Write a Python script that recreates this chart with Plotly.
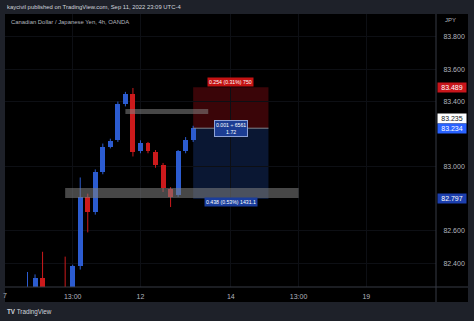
import plotly.graph_objects as go

# ---- data (4h CAD/JPY candles) ----
bar_index = list(range(23))
opens  = [82.20, 82.20, 82.31, 82.20, 82.15, 82.22, 82.18, 82.38, 82.81, 82.716, 82.964, 83.119, 83.16, 83.385, 83.447, 83.094, 83.144, 83.088, 83.007, 82.859, 82.822, 83.094, 83.162]
highs  = [82.345, 82.33, 82.47, 82.24, 82.24, 82.44, 82.39, 82.93, 82.83, 82.98, 83.14, 83.17, 83.40, 83.46, 83.484, 83.16, 83.15, 83.10, 83.02, 82.87, 83.10, 83.18, 83.25]
lows   = [82.15, 82.15, 82.15, 82.10, 82.10, 82.10, 82.15, 82.36, 82.59, 82.70, 82.95, 83.11, 83.15, 83.37, 83.06, 83.08, 83.08, 82.99, 82.84, 82.747, 82.81, 83.08, 83.15]
closes = [82.22, 82.31, 82.20, 82.15, 82.18, 82.18, 82.38, 82.81, 82.716, 82.964, 83.119, 83.156, 83.385, 83.447, 83.088, 83.144, 83.094, 83.007, 82.865, 82.809, 83.094, 83.162, 83.237]

x_tick_pos = [6, 15, 27, 36, 45]
x_tick_text = ["13:00", "12", "14", "13:00", "19"]
y_ticks = [82.4, 82.6, 83.0, 83.4, 83.6, 83.8]

# position tool & zones
entry_price = 83.235
stop_price = 83.489
target_price = 82.797
last_price = 83.234
tool_start, tool_end = 22, 32
upper_zone = (13, 24, 83.323, 83.354)
lower_zone = (5, 36, 82.803, 82.865)
label_stop = "0.254 (0.31%) 750"
label_mid = "0.001 ÷ 6561<br>1.72"
label_target = "0.438 (0.53%) 1431.1"

UP = "#2c5cd0"
DOWN = "#cc1a1c"
FRAME = "#1e2129"
AXIS = "#b2b5be"
SEP = "#363a45"

fig = go.Figure()

colors = [UP if c >= o else DOWN for o, c in zip(opens, closes)]

# wicks
for col in (UP, DOWN):
    xs, ys = [], []
    for i, o, h, l, c, k in zip(bar_index, opens, highs, lows, closes, colors):
        if k == col:
            xs += [i, i, None]
            ys += [l, h, None]
    fig.add_trace(go.Scatter(x=xs, y=ys, mode="lines", line=dict(color=col, width=1),
                             hoverinfo="skip", showlegend=False))

# bodies
fig.add_trace(go.Bar(
    x=bar_index,
    y=[max(abs(c - o), 0.003) for o, c in zip(opens, closes)],
    base=[min(o, c) for o, c in zip(opens, closes)],
    width=0.66,
    marker=dict(color=colors, line=dict(width=0)),
    showlegend=False, hoverinfo="skip"))

shapes = []
# chart black area (including axes area)
shapes.append(dict(type="rect", xref="paper", yref="paper", x0=0, x1=(468 - 5) / 431,
                   y0=(287 - 302) / 273, y1=1.0, fillcolor="#000000", line_width=0, layer="below"))
# position tool boxes
shapes.append(dict(type="rect", xref="x", yref="y", x0=tool_start, x1=tool_end,
                   y0=entry_price, y1=stop_price, fillcolor="#3a0508", line_width=0, layer="below"))
shapes.append(dict(type="rect", xref="x", yref="y", x0=tool_start, x1=tool_end,
                   y0=target_price, y1=entry_price, fillcolor="#0a1733", line_width=0, layer="below"))
shapes.append(dict(type="line", xref="x", yref="y", x0=tool_start, x1=tool_end,
                   y0=entry_price, y1=entry_price, line=dict(color="#80838c", width=1)))
# zones
for z in (upper_zone, lower_zone):
    shapes.append(dict(type="rect", xref="x", yref="y", x0=z[0], x1=z[1], y0=z[2], y1=z[3],
                       fillcolor="rgba(130,130,130,0.55)", line_width=0, layer="above"))
# separators
shapes.append(dict(type="line", xref="paper", yref="paper", x0=1.0, x1=1.0,
                   y0=(287 - 302) / 273, y1=1.0, line=dict(color=SEP, width=1)))
shapes.append(dict(type="line", xref="paper", yref="paper", x0=0, x1=(468 - 5) / 431,
                   y0=0, y1=0, line=dict(color=SEP, width=1)))

ann = []
ann.append(dict(text="kaycivil published on TradingView.com, Sep 11, 2022 23:09 UTC-4",
                xref="paper", yref="paper", x=(5 - 5) / 431, y=(287 - 7) / 273,
                xanchor="left", yanchor="middle", showarrow=False,
                font=dict(size=5.9, color="#d1d4dc", family="Liberation Sans")))
ann.append(dict(text="Canadian Dollar / Japanese Yen, 4h, OANDA",
                xref="paper", yref="paper", x=(9 - 5) / 431, y=(287 - 22) / 273,
                xanchor="left", yanchor="middle", showarrow=False,
                font=dict(size=5.9, color=AXIS, family="Liberation Sans")))
ann.append(dict(text="JPY", xref="paper", yref="paper", x=(443 - 5) / 431, y=(287 - 20) / 273,
                xanchor="left", yanchor="middle", showarrow=False,
                font=dict(size=6, color=AXIS, family="Liberation Sans")))
ann.append(dict(text="7", xref="paper", yref="paper", x=(5 - 5) / 431, y=(287 - 295) / 273,
                xanchor="center", yanchor="middle", showarrow=False,
                font=dict(size=7, color=AXIS, family="Liberation Sans")))
ann.append(dict(text="<b>TV</b> TradingView", xref="paper", yref="paper",
                x=(5 - 5) / 431, y=(287 - 312) / 273, xanchor="left", yanchor="middle",
                showarrow=False, font=dict(size=6.3, color="#d1d4dc", family="Liberation Sans")))

mid_x = (tool_start + tool_end) / 2
ann.append(dict(text=label_stop, x=mid_x, y=stop_price, yshift=5, xref="x", yref="y",
                showarrow=False, bgcolor="#c41212", borderpad=1,
                font=dict(size=5.2, color="white", family="Liberation Sans")))
ann.append(dict(text=label_mid, x=mid_x, y=entry_price, xref="x", yref="y",
                showarrow=False, bgcolor="#1c3d93", bordercolor="#8ea2d6", borderwidth=1, borderpad=1,
                font=dict(size=5.2, color="white", family="Liberation Sans")))
ann.append(dict(text=label_target, x=mid_x, y=target_price, yshift=-3, xref="x", yref="y",
                showarrow=False, bgcolor="#1a3d9c", borderpad=1,
                font=dict(size=5.2, color="white", family="Liberation Sans")))

# price-scale labels
for val, yshift, bg, fg in [(stop_price, 0, "#c8151b", "white"),
                            (entry_price, 10, "#ffffff", "#131722"),
                            (last_price, 0, "#2962ff", "white"),
                            (target_price, 0, "#1c3fae", "white")]:
    ann.append(dict(text=f"{val:.3f}", xref="paper", yref="y", x=(437 - 5) / 431, y=val,
                    yshift=yshift, xanchor="left", yanchor="middle", showarrow=False,
                    bgcolor=bg, width=28, height=9, borderpad=0, align="center",
                    font=dict(size=7, color=fg, family="Liberation Sans")))

fig.update_layout(
    width=474, height=321,
    margin=dict(l=5, r=38, t=14, b=34),
    paper_bgcolor=FRAME, plot_bgcolor="#000000",
    bargap=0, showlegend=False,
    shapes=shapes, annotations=ann,
    xaxis=dict(range=[-2.99, 54.25], tickvals=x_tick_pos, ticktext=x_tick_text,
               showgrid=True, gridcolor="#0d0f14", zeroline=False, showline=False,
               ticks="outside", ticklen=3, tickcolor="rgba(0,0,0,0)",
               tickfont=dict(size=7, color=AXIS, family="Liberation Sans"), fixedrange=True),
    yaxis=dict(range=[82.252, 83.942], side="right", tickvals=y_ticks, tickformat=".3f",
               showgrid=True, gridcolor="#0d0f14", zeroline=False, showline=False,
               ticks="outside", ticklen=5, tickcolor="rgba(0,0,0,0)",
               tickfont=dict(size=7, color=AXIS, family="Liberation Sans"), fixedrange=True),
)

fig.write_html("out.html")
